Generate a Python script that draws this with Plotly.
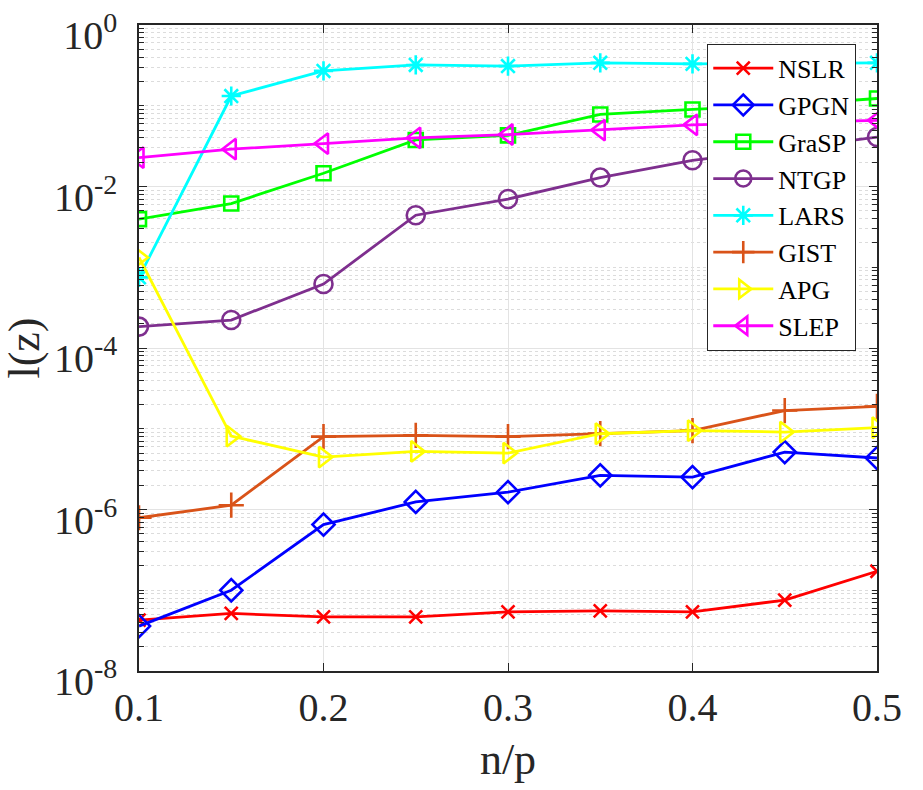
import plotly.graph_objects as go
import numpy as np

x = [0.10, 0.15, 0.20, 0.25, 0.30, 0.35, 0.40, 0.45, 0.50]

nslr = [4.27e-8, 5.16e-8, 4.69e-8, 4.69e-8, 5.4e-8, 5.55e-8, 5.4e-8, 7.55e-8, 1.72e-7]
gpgn = [3.6e-8, 1.0e-7, 6.5e-7, 1.24e-6, 1.64e-6, 2.65e-6, 2.52e-6, 5.14e-6, 4.34e-6]
grasp = [3.94e-3, 6.15e-3, 1.46e-2, 3.77e-2, 4.3e-2, 7.8e-2, 9.0e-2, 1.02e-1, 1.23e-1]
ntgp = [1.84e-4, 2.22e-4, 6.2e-4, 4.41e-3, 7.0e-3, 1.29e-2, 2.11e-2, 2.9e-2, 4.1e-2]
lars = [7.5e-4, 1.32e-1, 2.7e-1, 3.2e-1, 3.1e-1, 3.4e-1, 3.3e-1, 3.35e-1, 3.4e-1]
gist = [7.9e-7, 1.13e-6, 8.0e-6, 8.3e-6, 8.0e-6, 8.7e-6, 9.5e-6, 1.68e-5, 1.89e-5]
apg = [1.32e-3, 8.1e-6, 4.46e-6, 5.24e-6, 5.0e-6, 8.67e-6, 9.5e-6, 9.1e-6, 1.03e-5]
slep = [2.28e-2, 2.9e-2, 3.4e-2, 4.0e-2, 4.4e-2, 5.0e-2, 5.8e-2, 6.2e-2, 6.6e-2]

names = ["NSLR", "GPGN", "GraSP", "NTGP", "LARS", "GIST", "APG", "SLEP"]
series = [nslr, gpgn, grasp, ntgp, lars, gist, apg, slep]
colors = ["#FF0000", "#0000FF", "#00FF00", "#7E2F8E", "#00FFFF", "#D95319", "#FFFF00", "#FF00FF"]
symbols = ["x-thin-open", "diamond-open", "square-open", "circle-open",
           "asterisk-open", "cross-thin-open", "triangle-right-open", "triangle-left-open"]
sizes = [13, 17, 14, 18, 16, 18, 18, 18]

x_ticks = [0.1, 0.2, 0.3, 0.4, 0.5]
y_exps = [-8, -6, -4, -2, 0]

FONT = "Liberation Serif"

fig = go.Figure()
for nm, ys, c, s, sz in zip(names, series, colors, symbols, sizes):
    fig.add_trace(go.Scatter(
        x=x, y=ys, name=nm, mode="lines+markers",
        line=dict(color=c, width=2.8),
        marker=dict(symbol=s, size=sz, color=c, line=dict(color=c, width=2.6)),
    ))

minor_vals = [m * 10.0 ** e for e in range(-8, 0) for m in range(2, 10)]
minor_vals += [10.0 ** e for e in range(-7, 0, 2)]

fig.update_layout(
    width=923, height=790,
    margin=dict(l=139, r=46, t=25, b=119),
    plot_bgcolor="white", paper_bgcolor="white",
    font=dict(family=FONT, color="#262626"),
    showlegend=True,
    legend=dict(
        x=0.770, y=0.971, xanchor="left", yanchor="top",
        bgcolor="white", bordercolor="#262626", borderwidth=1,
        font=dict(family=FONT, size=26, color="black"),
        tracegroupgap=0, itemwidth=60,
    ),
    xaxis=dict(
        range=[0.1, 0.5],
        tickvals=x_ticks, ticktext=[str(v) for v in x_ticks],
        tickfont=dict(size=40, family=FONT, color="#262626"),
        showgrid=True, gridcolor="#E3E3E3", gridwidth=1,
        showline=True, linecolor="#262626", linewidth=1.5, mirror="ticks",
        ticks="inside", ticklen=8, tickcolor="#262626",
        zeroline=False, automargin=False,
        title=dict(text="n/p", font=dict(size=44, family=FONT, color="#262626"), standoff=14),
    ),
    yaxis=dict(
        type="log", range=[-8, 0],
        tickvals=[10.0 ** e for e in y_exps],
        ticktext=["10<sup>%d</sup>" % e for e in y_exps],
        tickfont=dict(size=40, family=FONT, color="#262626"),
        ticklabeloverflow="allow", ticklabelstandoff=12, ticklabelshift=10,
        showgrid=True, gridcolor="#E3E3E3", gridwidth=1,
        showline=True, linecolor="#262626", linewidth=1.5, mirror="ticks",
        ticks="inside", ticklen=8, tickcolor="#262626",
        zeroline=False, automargin=False,
        minor=dict(tickvals=minor_vals, showgrid=True, gridcolor="#DCDCDC",
                   griddash="dot", gridwidth=1, ticks="inside", ticklen=5,
                   tickcolor="#262626"),
        title=dict(text="l(z)", font=dict(size=44, family=FONT, color="#262626"), standoff=8),
    ),
)

fig.write_html("out.html")
